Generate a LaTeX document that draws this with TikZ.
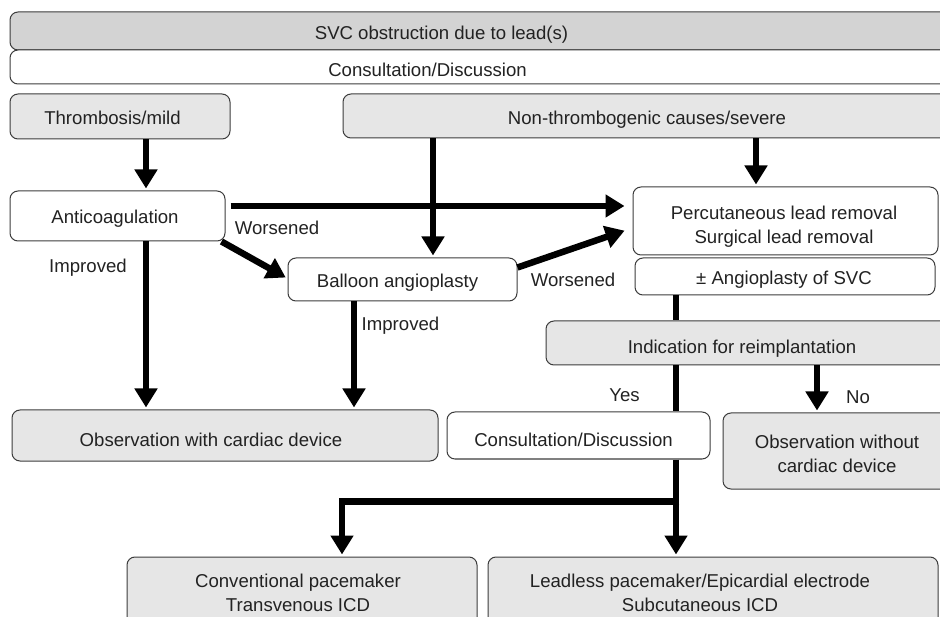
\documentclass[tikz,border=0pt]{standalone}
\usepackage{fontspec}
\setmainfont{Liberation Sans}
\usetikzlibrary{arrows.meta}
\definecolor{bdr}{HTML}{3C3C3C}
\definecolor{fillD}{HTML}{D3D3D3}
\definecolor{fillL}{HTML}{E6E6E6}
\definecolor{txtc}{HTML}{222222}
\begin{document}
\begin{tikzpicture}[x=1pt,y=-1pt,
  font=\fontsize{18.6}{22}\selectfont,
  box/.style={rectangle, draw=bdr, line width=1pt, rounded corners=8pt, inner sep=0pt},
  wbox/.style={box, fill=white},
  gbox/.style={box, fill=fillL},
  dbox/.style={box, fill=fillD},
  txt/.style={anchor=base, inner sep=0pt, text=txtc},
  arr/.style={line width=6.5pt, -{Triangle[width=22pt,length=19pt]}, shorten >=2pt},
  ln/.style={line width=6.5pt}]
\useasboundingbox (0,0) rectangle (940,617);
% boxes
\node[dbox, minimum width=965pt, minimum height=38pt] (svc) at (492.5,31) {};
\node[wbox, minimum width=965pt, minimum height=34pt] (cons1) at (492.5,67) {};
\node[gbox, minimum width=632pt, minimum height=44pt] (nonthr) at (659,116) {};
\node[gbox, minimum width=220pt, minimum height=45pt] (thromb) at (120,116.5) {};
\node[wbox, minimum width=215pt, minimum height=50pt] (anticoag) at (117.5,216) {};
\node[wbox, minimum width=229pt, minimum height=43pt] (balloon) at (402.5,279.5) {};
\node[wbox, minimum width=305pt, minimum height=68pt] (percut) at (785.5,221) {};
\node[wbox, minimum width=300pt, minimum height=37pt] (angio) at (785,276.5) {};
\node[gbox, minimum width=429pt, minimum height=44pt] (indic) at (760.5,343) {};
\node[gbox, minimum width=426pt, minimum height=51pt] (obswith) at (225,435.5) {};
\node[wbox, minimum width=263pt, minimum height=47pt] (cons2) at (578.5,435.5) {};
\node[gbox, minimum width=252pt, minimum height=76pt] (obswo) at (849,451) {};
\node[gbox, minimum width=350pt, minimum height=93pt] (conv) at (302,603.5) {};
\node[gbox, minimum width=450pt, minimum height=93pt] (leadless) at (713,603.5) {};
% texts
\node[txt] (t-svc) at (441.5,39.3) {SVC obstruction due to lead(s)};
\node[txt] (t-cons1) at (427.5,76.5) {Consultation/Discussion};
\node[txt] (t-nonthr) at (647,125) {Non-thrombogenic causes/severe};
\node[txt] (t-thromb) at (112.5,125) {Thrombosis/mild};
\node[txt] (t-anti) at (115,224) {Anticoagulation};
\node[txt] (t-ball) at (397.5,288) {Balloon angioplasty};
\node[txt] (t-perc1) at (784,219.3) {Percutaneous lead removal};
\node[txt] (t-perc2) at (784,243.3) {Surgical lead removal};
\node[txt] (t-angio) at (784,285) {± Angioplasty of SVC};
\node[txt] (t-indic) at (742,353.3) {Indication for reimplantation};
\node[txt] (t-obswith) at (211,446.7) {Observation with cardiac device};
\node[txt] (t-cons2) at (573.5,446.7) {Consultation/Discussion};
\node[txt] (t-obswo1) at (837,449) {Observation without};
\node[txt] (t-obswo2) at (837,472.7) {cardiac device};
\node[txt] (t-conv1) at (298,587.3) {Conventional pacemaker};
\node[txt] (t-conv2) at (298,611) {Transvenous ICD};
\node[txt] (t-lead1) at (700,587.3) {Leadless pacemaker/Epicardial electrode};
\node[txt] (t-lead2) at (700,611) {Subcutaneous ICD};
% labels
\node[txt] (l-wors1) at (277,235) {Worsened};
\node[txt] (l-impr1) at (88,273) {Improved};
\node[txt] (l-wors2) at (573,286.7) {Worsened};
\node[txt] (l-impr2) at (400.5,330.7) {Improved};
\node[txt] (l-yes) at (624.5,401.7) {Yes};
\node[txt] (l-no) at (858,403.3) {No};
% connectors
\draw[arr] ([xshift=26pt]thromb.south) -- ([xshift=28.5pt]anticoag.north);
\draw[arr] ([xshift=30.5pt]balloon.north |- nonthr.south) -- ([xshift=30.5pt]balloon.north);
\draw[arr] ([xshift=-29.5pt]percut.north |- nonthr.south) -- ([xshift=-29.5pt]percut.north);
\draw[arr] ([xshift=5pt,yshift=10pt]anticoag.east) -- ([xshift=-6pt,yshift=15pt]percut.west);
\draw[arr] ([xshift=-4pt]anticoag.south east) -- ([yshift=1pt]balloon.west);
\draw[arr] ([yshift=12pt]balloon.east) -- ([xshift=-6pt,yshift=-9pt]percut.west);
\draw[arr] ([xshift=28.5pt]anticoag.south) -- ([xshift=28.5pt]anticoag.south |- obswith.north);
\draw[arr] ([xshift=-48.5pt]balloon.south) -- ([xshift=-48.5pt]balloon.south |- obswith.north);
\draw[ln] ([xshift=-109pt]angio.south) -- ([xshift=-109pt]angio.south |- indic.north);
\draw[ln] ([xshift=97.5pt]cons2.north |- indic.south) -- ([xshift=97.5pt]cons2.north);
\draw[arr] ([xshift=97.5pt]cons2.south) -- ([xshift=-37pt]leadless.north);
\coordinate (br) at ([xshift=97.5pt,yshift=-42pt]cons2.south);
\draw[arr] ([xshift=3.25pt]br) -| ([xshift=40pt]conv.north);
\draw[arr] ([xshift=-32pt]obswo.north |- indic.south) -- ([xshift=-32pt]obswo.north);
\end{tikzpicture}
\end{document}
